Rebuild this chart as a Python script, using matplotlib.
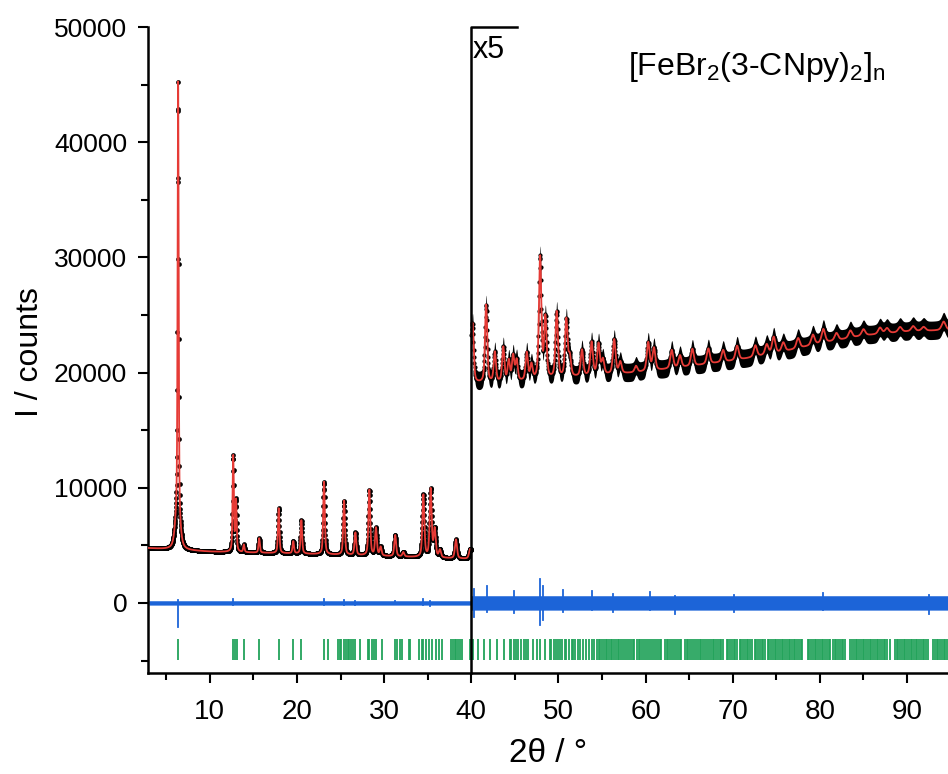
import numpy as np
import matplotlib
matplotlib.use("Agg")
import matplotlib.pyplot as plt
from matplotlib import font_manager
from matplotlib.ticker import MultipleLocator

# pick fonts (narrow one for the axis labels if it is there)
names = set(f.name for f in font_manager.fontManager.ttflist)
REG = ['Liberation Sans', 'DejaVu Sans']
NARROW = ['Liberation Sans Narrow', 'Liberation Sans', 'DejaVu Sans'] if 'Liberation Sans Narrow' in names else REG
plt.rcParams['font.family'] = REG
plt.rcParams['mathtext.default'] = 'regular'

# ---- data (counts, before the x5 blow-up) ----
scale_from = 40.0
scale = 5

# background anchors
bg_pos = [3, 6, 10, 20, 30, 40, 45, 50, 55, 60, 65, 70, 75, 80, 85, 90, 95]
bg_val = [4750, 4600, 4450, 4280, 4060, 3800, 3830, 3890, 3950, 4010, 4100,
          4200, 4330, 4500, 4640, 4710, 4740]

# reflections: position (2theta) and height above background
peak_pos = [6.36, 12.68, 13.0, 13.9, 15.66, 17.9, 19.57, 20.5, 23.1, 25.4, 26.7,
            28.3, 29.06, 29.6, 31.27, 32.2, 34.5, 35.34, 35.8, 36.4, 38.24, 39.85,
            40.15, 41.7, 42.7, 43.67, 44.3, 44.8, 45.2, 46.36, 46.9, 47.9, 48.5,
            49.8, 50.9, 51.3, 52.7, 53.8, 54.6, 55.1, 56.4, 57.1, 58.9, 60.3,
            60.96, 63.0, 63.95, 65.37, 67.2, 68.9, 70.5, 72.6, 73.9, 74.7, 75.8,
            77.5, 79.2, 80.4, 81.9, 83.5, 85.0, 86.9, 87.7, 89.2, 90.7, 91.9, 94.2]
peak_amp = [37300, 8300, 4400, 650, 1250, 3900, 1050, 2900, 6300, 4700, 1950,
            5700, 2400, 750, 1850, 380, 5400, 5900, 2400, 650, 1650, 750,
            950, 1350, 520, 600, 360, 440, 360, 480, 260, 2120, 1050,
            1150, 1000, 340, 460, 580, 540, 260, 600, 200, 110, 500,
            390, 320, 210, 300, 270, 210, 250, 200, 180, 290, 160,
            180, 180, 240, 130, 130, 110, 110, 90, 90, 90, 70, 150]
# broad foot under the strong low angle reflection
foot_pos = [6.3]
foot_amp = [3500]
foot_fwhm = [0.6]

# difference curve: noise half width (below / above 40 deg) and the visible spikes
diff_halfwidth = [190, 125]
diff_spikes = [(6.36, -2100, 250), (12.7, -200, 350), (23.1, -150, 300),
               (25.4, -150, 220), (26.7, -200, 150), (31.27, -100, 200),
               (34.5, -200, 300), (35.3, -300, 150), (40.3, -250, 250),
               (41.8, -150, 290), (44.9, -180, 200), (47.85, -380, 410),
               (48.2, -300, 300), (50.5, -150, 220), (53.8, -120, 200),
               (56.3, -150, 160), (60.5, -120, 190), (63.4, -200, 120),
               (70.2, -150, 140), (80.3, -130, 170), (92.5, -200, 140)]

# tick marks of the calculated reflection positions
refl = [6.38, 12.7, 12.9, 13.07, 13.9, 15.66, 17.9, 19.57, 20.49, 23.1, 23.5,
        24.7, 24.9, 25.1, 25.4, 25.6, 25.8, 26.0, 26.2, 26.4, 26.6, 27.2, 28.1,
        28.3, 28.6, 28.8, 29.1, 29.7, 31.3, 31.5, 31.8, 32.1, 32.8, 33.0, 34.0,
        34.3, 34.5, 34.8, 35.1, 35.5, 35.9, 36.3, 36.6, 37.7, 37.9, 38.1, 38.3,
        38.5, 38.7, 38.9, 39.85,
        40.2, 40.8, 41.4, 42.15, 42.9, 43.7, 44.4, 44.6, 44.9, 45.1, 45.4, 45.7,
        46.0, 46.3, 46.5, 47.1, 47.5, 47.9, 48.5, 49.0, 49.2, 49.5, 49.7, 49.9,
        50.2, 50.4, 50.7, 50.9, 51.2, 51.5, 51.7, 51.9, 52.2, 52.5, 52.8, 53.2,
        53.5, 53.8, 54.1, 54.4, 54.6, 54.8, 55.0, 55.2, 55.4, 55.6, 55.8, 56.0,
        56.2, 56.4, 56.6, 56.8, 57.0, 57.2, 57.4, 57.6, 57.9, 58.1, 58.3, 58.5,
        58.7, 59.0, 59.2, 59.4, 59.6, 59.8, 60.1, 60.3, 60.5, 60.7, 61.0, 61.2,
        61.4, 61.6, 61.8, 62.2, 62.4, 62.6, 62.8, 63.0, 63.3, 63.5, 63.7, 63.9,
        64.1, 64.5, 64.7, 64.9, 65.1, 65.3, 65.5, 65.8, 66.0, 66.2, 66.4, 66.6,
        66.8, 67.1, 67.3, 67.5, 67.7, 67.9, 68.1, 68.3, 68.5, 68.7, 68.9, 69.3,
        69.5, 69.7, 69.9, 70.1, 70.3, 70.5, 70.8, 71.0, 71.2, 71.4, 71.6, 71.8,
        72.0, 72.2, 72.5, 72.7, 72.9, 73.1, 73.3, 73.5, 73.7, 74.0, 74.2, 74.4,
        74.6, 74.8, 75.0, 75.2, 75.4, 75.6, 75.8, 76.0, 76.2, 76.4, 76.6, 76.8,
        77.0, 77.2, 77.4, 77.6, 77.8, 78.0, 78.6, 78.8, 79.0, 79.2, 79.4, 79.6,
        79.8, 80.0, 80.2, 80.4, 80.6, 80.8, 81.0, 81.2, 81.5, 81.7, 81.9, 82.1,
        82.3, 82.5, 82.7, 82.9, 83.5, 83.7, 83.9, 84.1, 84.3, 84.5, 84.7, 84.9,
        85.1, 85.3, 85.5, 85.7, 85.9, 86.1, 86.3, 86.5, 86.7, 86.9, 87.1, 87.3,
        87.5, 87.7, 88.0, 88.6, 88.8, 89.0, 89.2, 89.4, 89.6, 89.8, 90.0, 90.2,
        90.4, 90.6, 90.8, 91.0, 91.2, 91.4, 91.6, 91.8, 92.0, 92.2, 92.4, 93.0,
        93.2, 93.4, 93.6, 93.8, 94.0, 94.2, 94.4, 94.6]
refl_band = (-4950, -3100)


def pv(x, p, a, w):
    d = (x - p) / w
    return a * (0.5 * np.exp(-4 * np.log(2) * d**2) + 0.5 / (1 + 4 * d**2))


# ---- build the calculated pattern from the reflection list ----
tt = np.arange(3.0, 95.0, 0.01)
calc = np.interp(tt, bg_pos, bg_val)
for p, a in zip(peak_pos, peak_amp):
    calc += pv(tt, p, a, 0.11 + 0.0045 * p)   # peak FWHM grows with angle
for p, a, w in zip(foot_pos, foot_amp, foot_fwhm):
    calc += pv(tt, p, a, w)

mult = np.where(tt >= scale_from, scale, 1)
lo = tt < scale_from
hi = ~lo

fig = plt.figure(figsize=(9.48, 7.74), dpi=100)
ax = fig.add_axes([0.1561, 0.131, 0.8439, 0.834])

red = '#e63b36'
blue = '#1c64d8'
green = '#22a35a'

# observed points
obs = calc * mult
ax.fill_between(tt[hi], obs[hi] - 800, obs[hi] + 800, color='black', lw=0, zorder=2)
ax.plot(tt[lo][::2], obs[lo][::2], 'o', color='black', ms=3.4, mew=0, zorder=2)
ax.plot(tt[hi][::3], obs[hi][::3], 'o', color='black', ms=3.0, mew=0, zorder=2)
# calculated line
ax.plot(tt[lo], obs[lo], color=red, lw=1.3, zorder=3)
ax.plot(tt[hi], obs[hi], color=red, lw=1.3, zorder=3)

# difference
hw = np.where(lo, diff_halfwidth[0], diff_halfwidth[1]) * mult
ax.fill_between(tt, -hw, hw, color=blue, lw=0, zorder=2)
for p, l, h in diff_spikes:
    m = scale if p >= scale_from else 1
    ax.plot([p, p], [l * m, h * m], color=blue, lw=1.3, zorder=2)

# reflection ticks
ax.vlines(refl, refl_band[0], refl_band[1], color=green, lw=1.3, zorder=2)

# x5 marker
ax.plot([40, 40, 45.3], [-6050, 50000, 50000], color='black', lw=1.8, clip_on=False, zorder=4)
ax.text(40.15, 49300, 'x5', fontsize=22, ha='left', va='top')
ax.text(58.0, 46500, '[FeBr$_2$(3-CNpy)$_2$]$_n$', fontsize=23, ha='left', va='center')

ax.set_xlim(2.9, 94.7)
ax.set_ylim(-6050, 50000)
ax.xaxis.set_major_locator(MultipleLocator(10))
ax.xaxis.set_minor_locator(MultipleLocator(5))
ax.yaxis.set_major_locator(MultipleLocator(10000))
ax.yaxis.set_minor_locator(MultipleLocator(5000))
ax.set_yticks(range(0, 50001, 10000))
for s in ['top', 'right']:
    ax.spines[s].set_visible(False)
for s in ['left', 'bottom']:
    ax.spines[s].set_linewidth(1.8)
ax.tick_params(which='both', direction='out', width=1.5)
ax.tick_params(which='major', length=7)
ax.tick_params(which='minor', length=5)
ax.tick_params(axis='y', labelsize=19, pad=8)
ax.tick_params(axis='x', labelsize=20, pad=12)
for t in ax.get_xticklabels():
    t.set_family(NARROW)

fig.text(0.032, 0.545, 'I / counts', rotation=90, ha='center', va='center',
         fontsize=23, family=NARROW)
fig.text(0.578, 0.026, '2θ / °', ha='center', va='center', fontsize=24, family=NARROW)

fig.savefig('out.png', dpi=100)
